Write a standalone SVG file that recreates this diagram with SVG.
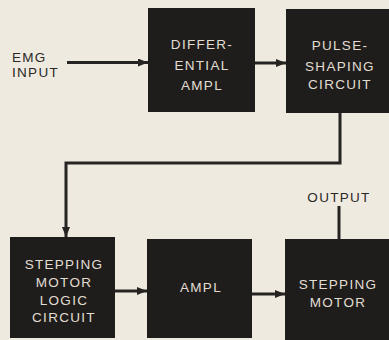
<svg xmlns="http://www.w3.org/2000/svg" width="389" height="340" viewBox="0 0 389 340">
<style>
.box{fill:#1f1d1c}
.lbl{font-family:"Liberation Sans",Arial,sans-serif;font-size:13.5px;letter-spacing:1.3px;fill:#e2ddd3;text-anchor:middle}
.ext{font-family:"Liberation Sans",Arial,sans-serif;font-size:13.5px;letter-spacing:1.3px;fill:#2a2826}
.wire{stroke:#262423;stroke-width:3;fill:none}
</style>
<defs>
<marker id="ah" markerUnits="userSpaceOnUse" markerWidth="10" markerHeight="8" refX="10" refY="4" orient="auto">
<path d="M0,0 L10,4 L0,8 Z" fill="#262423"/>
</marker>
</defs>
<rect width="389" height="340" fill="#efeae0"/>
<g id="emg-input">
<text class="ext" x="12" y="62">EMG</text>
<text class="ext" x="12" y="77">INPUT</text>
</g>
<g id="differential-ampl">
<rect class="box" x="148" y="8" width="107" height="104"/>
<text class="lbl" x="202" y="48.5">DIFFER-</text>
<text class="lbl" x="202" y="69.5">ENTIAL</text>
<text class="lbl" x="202" y="90">AMPL</text>
</g>
<g id="pulse-shaping">
<rect class="box" x="286" y="9" width="104" height="104"/>
<text class="lbl" x="340" y="50">PULSE-</text>
<text class="lbl" x="340" y="70.5">SHAPING</text>
<text class="lbl" x="340" y="89">CIRCUIT</text>
</g>
<g id="logic-circuit">
<rect class="box" x="10" y="237" width="105" height="101"/>
<text class="lbl" x="64" y="269">STEPPING</text>
<text class="lbl" x="64" y="287">MOTOR</text>
<text class="lbl" x="64" y="304.5">LOGIC</text>
<text class="lbl" x="64" y="322">CIRCUIT</text>
</g>
<g id="ampl">
<rect class="box" x="147" y="239" width="105" height="99"/>
<text class="lbl" x="201" y="292">AMPL</text>
</g>
<g id="stepping-motor">
<rect class="box" x="285" y="239" width="105" height="101"/>
<text class="lbl" x="338" y="289">STEPPING</text>
<text class="lbl" x="338" y="307">MOTOR</text>
</g>
<g id="output">
<text class="ext" x="339" y="202" text-anchor="middle">OUTPUT</text>
</g>
<g id="connectors">
<line class="wire" x1="67" y1="62.5" x2="148" y2="62.5" marker-end="url(#ah)"/>
<line class="wire" x1="255" y1="63" x2="286" y2="63" marker-end="url(#ah)"/>
<polyline class="wire" points="340,113 340,163 66,163 66,237" marker-end="url(#ah)"/>
<line class="wire" x1="115" y1="291" x2="147" y2="291" marker-end="url(#ah)"/>
<line class="wire" x1="252" y1="294" x2="285" y2="294" marker-end="url(#ah)"/>
<line class="wire" x1="339" y1="206" x2="339" y2="239"/>
</g>
</svg>
